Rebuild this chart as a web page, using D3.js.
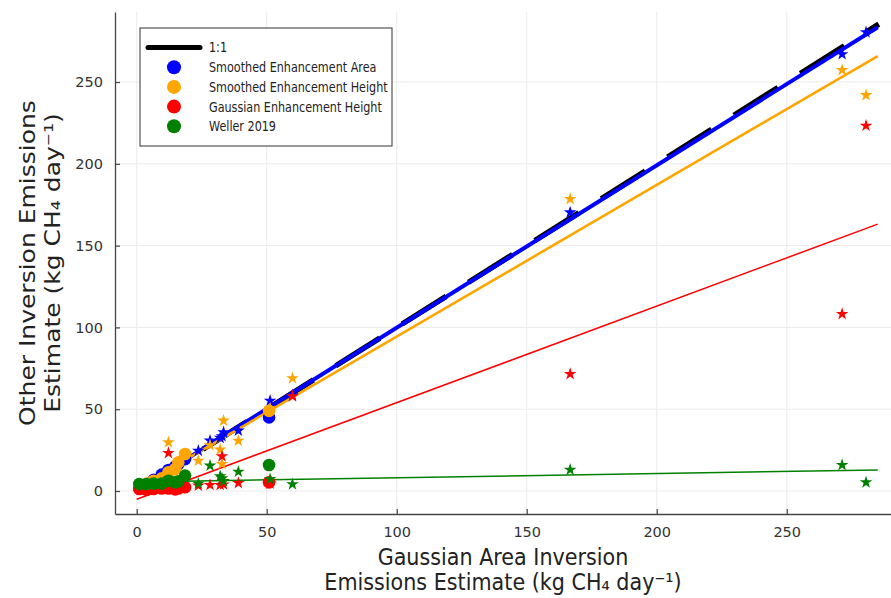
<!DOCTYPE html>
<html><head><meta charset="utf-8">
<script src="https://cdn.jsdelivr.net/npm/d3@7/dist/d3.min.js"></script>
<style>body{margin:0;background:#fff} svg text{font-family:"DejaVu Sans",sans-serif}</style>
</head><body><svg id="c" width="891" height="598"></svg>
<script>
// ---- data ----
const seriesNames = ["Smoothed Enhancement Area","Smoothed Enhancement Height","Gaussian Enhancement Height","Weller 2019"];
const seriesColors = ["#0000ff","#ffa500","#ff0000","#008000"];
const circleX      = [1.0, 3.8, 6.5, 9.6, 12.2, 14.8, 16.0, 18.6, 50.9];
const circleBlue   = [1.5, 4.0, 6.8, 10.0, 12.8, 15.0, 16.5, 19.5, 45.0];
const circleOrange = [2.5, 4.5, 6.3, 7.7, 11.5, 13.4, 17.5, 22.6, 49.0];
const circleRed    = [1.2, 0.8, 1.2, 1.5, 1.5, 1.0, 1.5, 2.3, 5.3];
const circleGreen  = [4.3, 4.3, 4.5, 4.5, 6.3, 5.3, 6.0, 9.4, 15.9];
const starX      = [12.2, 23.7, 28.2, 32.1, 32.8, 33.4, 39.1, 51.3, 59.9, 166.7, 271.3, 280.5];
const starBlue   = [12.5, 24.6, 30.8, 32.5, 33.5, 35.9, 36.9, 55.2, 58.5, 170.3, 267.0, 280.4];
const starOrange = [29.7, 18.5, 28.0, 25.3, 16.5, 43.0, 30.7, 50.5, 68.9, 178.5, 257.3, 242.0];
const starRed    = [23.2, 3.3, 3.7, 3.7, 21.2, 4.0, 4.9, 4.5, 57.9, 71.5, 108.2, 223.3];
const starGreen  = [5.5, 4.5, 15.5, 9.0, 7.7, 6.0, 11.8, 7.3, 4.1, 13.0, 15.9, 5.3];
const fitIntercepts = [0.5, 1.7, -5.0, 5.5];
const fitSlopes     = [0.993, 0.927, 0.59, 0.026];
const fitRange = [0, 285];
const oneToOneRange = [0, 285.4];
const xTicks = [0, 50, 100, 150, 200, 250];
const yTicks = [0, 50, 100, 150, 200, 250];
const xDomain = [-8.35, 290.1];
const yDomain = [-14.06, 292.8];
const xTitle = ["Gaussian Area Inversion", "Emissions Estimate (kg CH\u2084 day\u207B\u00B9)"];
const yTitle = ["Other Inversion Emissions", "Estimate (kg CH\u2084 day\u207B\u00B9)"];
const legendLabels = ["1:1"].concat(seriesNames);

// ---- layout ----
const L = 115, R = 891, T = 12, B = 514;
const svg = d3.select("#c");
const x = d3.scaleLinear().domain(xDomain).range([L, R]);
const y = d3.scaleLinear().domain(yDomain).range([B, T]);

// grid
svg.append("g").selectAll("line").data(xTicks).join("line")
  .attr("x1", d => x(d)).attr("x2", d => x(d)).attr("y1", T).attr("y2", B)
  .attr("stroke", "#ebebeb").attr("stroke-width", 1);
svg.append("g").selectAll("line").data(yTicks).join("line")
  .attr("y1", d => y(d)).attr("y2", d => y(d)).attr("x1", L).attr("x2", R)
  .attr("stroke", "#ebebeb").attr("stroke-width", 1);

// axes
const xAxis = svg.append("g").attr("transform", `translate(0,${B})`)
  .call(d3.axisBottom(x).tickValues(xTicks).tickSizeInner(-5).tickSizeOuter(0).tickPadding(13));
const yAxis = svg.append("g").attr("transform", `translate(${L},0)`)
  .call(d3.axisLeft(y).tickValues(yTicks).tickSizeInner(-5).tickSizeOuter(0).tickPadding(12));
[xAxis, yAxis].forEach(a => {
  a.select(".domain").attr("stroke", "#444").attr("stroke-width", 1.3);
  a.selectAll(".tick line").attr("stroke", "#444").attr("stroke-width", 1.2);
  a.selectAll(".tick text").attr("fill", "#333").attr("font-size", 14.5)
    .attr("font-family", "DejaVu Sans");
});

// lines
const line = d3.line().x(d => x(d[0])).y(d => y(d[1]));
const plot = svg.append("g");
plot.append("path").datum(oneToOneRange.map(v => [v, v])).attr("d", line)
  .attr("stroke", "#000").attr("stroke-width", 5.5).attr("fill", "none")
  .attr("stroke-dasharray", "52,26.4");
const fitWidths = [4, 2.6, 1.5, 1.5];
seriesColors.forEach((c, i) => {
  plot.append("path").datum(fitRange.map(v => [v, fitIntercepts[i] + fitSlopes[i] * v])).attr("d", line)
    .attr("stroke", c).attr("stroke-width", fitWidths[i]).attr("fill", "none");
});

// points
const circleYs = [circleBlue, circleOrange, circleRed, circleGreen];
const starYs = [starBlue, starOrange, starRed, starGreen];
const star = d3.symbol().type(d3.symbolStar).size(50);
seriesColors.forEach((c, i) => {
  plot.append("g").selectAll("circle").data(circleX.map((v, j) => [v, circleYs[i][j]])).join("circle")
    .attr("cx", d => x(d[0])).attr("cy", d => y(d[1])).attr("r", 6.3).attr("fill", c);
  plot.append("g").selectAll("path").data(starX.map((v, j) => [v, starYs[i][j]])).join("path")
    .attr("d", star).attr("transform", d => `translate(${x(d[0])},${y(d[1])})`).attr("fill", c);
});

// axis titles
const xt = svg.append("text").attr("text-anchor", "middle").attr("font-size", 22.5).attr("fill", "#222")
  .attr("transform", `translate(${(L + R) / 2},0) scale(0.92,1)`);
xTitle.forEach((t, i) => xt.append("tspan").attr("x", 0).attr("y", 565 + i * 25).text(t));
const yt = svg.append("text").attr("text-anchor", "middle").attr("font-size", 25).attr("fill", "#222")
  .attr("transform", `translate(0,${(T + B) / 2}) scale(0.84,1) rotate(-90)`);
yTitle.forEach((t, i) => yt.append("tspan").attr("x", 0).attr("y", 42 + i * 29.5).text(t));

// legend
const lg = svg.append("g");
lg.append("rect").attr("x", 140).attr("y", 28).attr("width", 252).attr("height", 118)
  .attr("fill", "#fff").attr("stroke", "#333").attr("stroke-width", 1);
const rowY = i => 47.5 + i * 19.7;
lg.append("line").attr("x1", 148).attr("x2", 200).attr("y1", rowY(0)).attr("y2", rowY(0))
  .attr("stroke", "#000").attr("stroke-width", 5).attr("stroke-linecap", "round");
seriesColors.forEach((c, i) => {
  lg.append("circle").attr("cx", 174).attr("cy", rowY(i + 1)).attr("r", 7).attr("fill", c);
});
legendLabels.forEach((t, i) => {
  lg.append("text").attr("transform", `translate(209,${rowY(i)}) scale(0.8,1)`).attr("dy", "0.35em")
    .attr("font-size", 14).attr("fill", "#222").text(t);
});
</script></body></html>
